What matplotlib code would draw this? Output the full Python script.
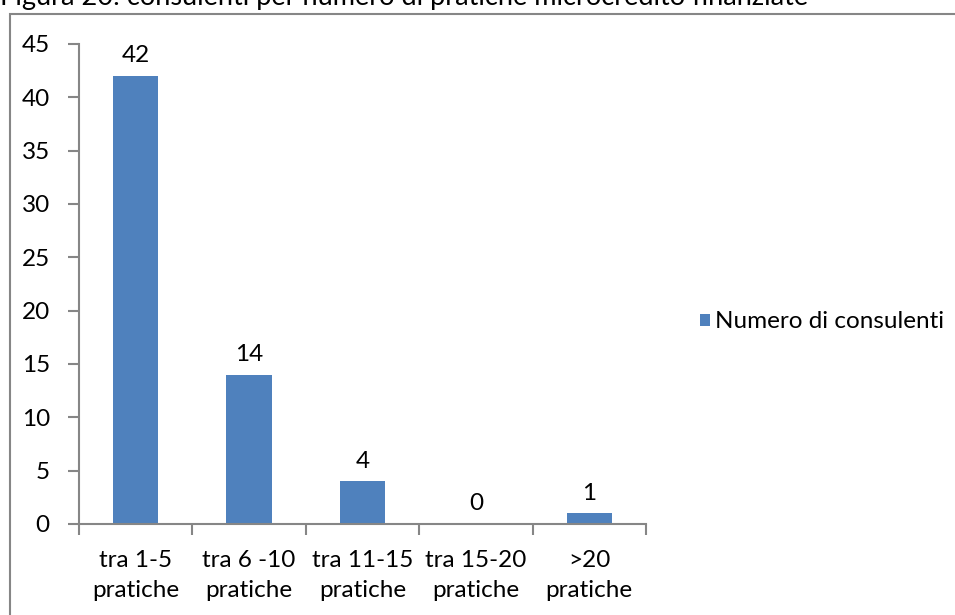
import matplotlib
matplotlib.use("Agg")
import matplotlib.pyplot as plt
from matplotlib.patches import Rectangle, Patch

categories = ["tra 1-5\npratiche", "tra 6 -10\npratiche", "tra 11-15\npratiche",
              "tra 15-20\npratiche", ">20\npratiche"]
values = [42, 14, 4, 0, 1]
yticks = [0, 5, 10, 15, 20, 25, 30, 35, 40, 45]
series_name = "Numero di consulenti"
title = "Figura 20: consulenti per numero di pratiche microcredito finanziate"

plt.rcParams["font.family"] = ["Lato", "DejaVu Sans"]
W, H = 955, 615
fig = plt.figure(figsize=(W / 100, H / 100), dpi=100)
bar_color = "#4f81bd"
axis_color = "#868686"
fs = 17.5

# caption above the chart frame (partly cut by the page top)
fig.text(0.0, 1 - 5 / H, title, fontsize=19.5, ha="left", va="baseline", color="black")

# chart frame
frame = Rectangle((10 / W, -0.05), 1.05, (615 - 14) / H + 0.05, transform=fig.transFigure,
                  fill=False, edgecolor=axis_color, linewidth=1.5, clip_on=False)
fig.add_artist(frame)

ax = fig.add_axes([79 / W, (615 - 524) / H, (646 - 79) / W, (524 - 44) / H])
x = list(range(len(categories)))
ax.bar(x, values, width=0.4, color=bar_color, label=series_name, zorder=2)
ax.set_xlim(-0.5, len(categories) - 0.5)
ax.set_ylim(0, 45)
ax.set_yticks(yticks)
ax.set_yticklabels([str(t) for t in yticks], fontsize=fs)

# category ticks sit at the boundaries between groups
ax.set_xticks([i - 0.5 for i in range(len(categories) + 1)])
ax.set_xticklabels([])
ax.set_xticks(x, minor=True)
ax.set_xticklabels(categories, minor=True, fontsize=fs, linespacing=1.5)
ax.tick_params(axis="x", which="minor", length=0, pad=19)
ax.tick_params(axis="x", which="major", length=8, width=1.5, color=axis_color, direction="out")
ax.tick_params(axis="y", length=8, width=1.5, color=axis_color, direction="out", pad=13)

for side in ["top", "right"]:
    ax.spines[side].set_visible(False)
for side in ["left", "bottom"]:
    ax.spines[side].set_color(axis_color)
    ax.spines[side].set_linewidth(1.5)

for xi, v in zip(x, values):
    ax.annotate(str(v), (xi, v), xytext=(0, 7), textcoords="offset points",
                ha="center", va="bottom", fontsize=fs)

handle = Patch(facecolor=bar_color, edgecolor="none")
fig.legend([handle], [series_name], loc="center left",
           bbox_to_anchor=(700 / W, 1 - 322 / H), frameon=False, fontsize=fs,
           borderaxespad=0, borderpad=0,
           handlelength=0.42, handleheight=0.42, handletextpad=0.2)

fig.savefig("out.png", dpi=100)
